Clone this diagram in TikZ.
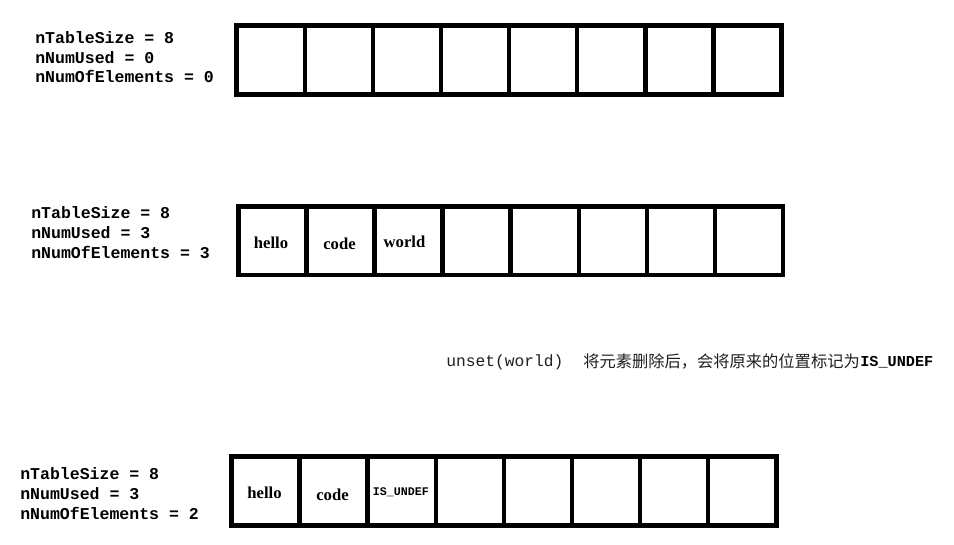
\documentclass[tikz,border=0pt]{standalone}
\usepackage{fontspec}
\setmonofont{Liberation Mono}
\newfontfamily\cellfont{Liberation Serif}
\newfontfamily\cjk{Noto Sans CJK SC}
\tikzset{
  cell/.style={draw=black, line width=3.4pt, minimum width=51.1pt, minimum height=51.5pt, inner sep=0pt, outer sep=0pt},
  lbl/.style={anchor=base west, inner sep=0pt, font=\fontsize{12.4}{15}\selectfont\ttfamily\bfseries},
  val/.style={anchor=base, inner sep=0pt, font=\fontsize{12.5}{15}\selectfont\cellfont\bfseries},
  undef/.style={anchor=base, inner sep=0pt, font=\fontsize{8.75}{10}\selectfont\ttfamily\bfseries},
  note/.style={anchor=base west, inner sep=0pt, text=black!88}
}
\begin{document}
\begin{tikzpicture}[x=0.75pt,y=-0.75pt]
\useasboundingbox (0,0) rectangle (954,545);
% row 1
\foreach \i in {0,...,7} {
  \node[cell] (a\i) at ({236.7+34.05+68.1*\i},60) {};
}
\node[lbl] (a-size) at (35,43.3) {nTableSize = 8};
\node[lbl] (a-used) at (35,63.3) {nNumUsed = 0};
\node[lbl] (a-num) at (35,83) {nNumOfElements = 0};
% row 2
\foreach \i in {0,...,7} {
  \node[cell] (b\i) at ({238.3+34.05+68.1*\i},240.7) {};
}
\node[lbl] (b-size) at (31,218.3) {nTableSize = 8};
\node[lbl] (b-used) at (31,238.3) {nNumUsed = 3};
\node[lbl] (b-num) at (31,258.3) {nNumOfElements = 3};
\node[val] (b-hello) at (271,248.3) {hello};
\node[val] (b-code) at (339.5,250) {code};
\node[val] (b-world) at (404.5,247.3) {world};
% note
\node[note, font=\fontsize{12.2}{15}\selectfont\ttfamily] (n1) at (446,366.5) {unset(world)};
\node[note, font=\fontsize{12.2}{15}\selectfont\cjk] (n2) at (583,368) {将元素删除后，会将原来的位置标记为};
\node[note, anchor=base west, font=\fontsize{11.4}{15}\selectfont\ttfamily\bfseries, text=black] (n3) at ([yshift=1.1pt]n2.base east) {IS\_UNDEF};
% row 3
\foreach \i in {0,...,7} {
  \node[cell] (c\i) at ({231.5+34.05+68.1*\i},491) {};
}
\node[lbl] (c-size) at (20,479.3) {nTableSize = 8};
\node[lbl] (c-used) at (20,499.3) {nNumUsed = 3};
\node[lbl] (c-num) at (20,519.3) {nNumOfElements = 2};
\node[val] (c-hello) at (264.5,498.3) {hello};
\node[val] (c-code) at (332.5,500) {code};
\node[undef] (c-undef) at (401,495.7) {IS\_UNDEF};
\end{tikzpicture}
\end{document}
